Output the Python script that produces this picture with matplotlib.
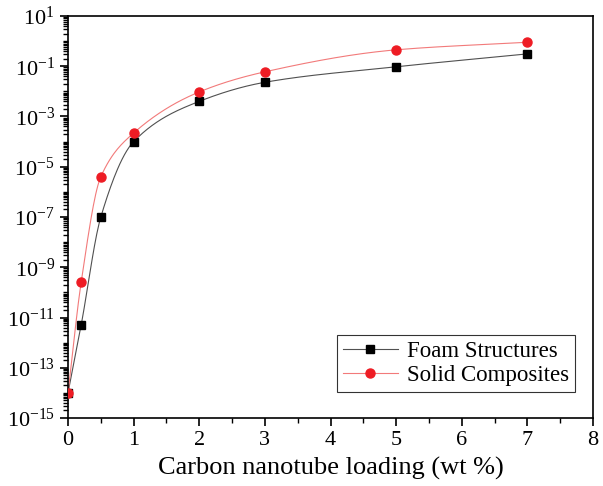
import numpy as np
import matplotlib
matplotlib.use('Agg')
import matplotlib.pyplot as plt
from matplotlib.ticker import LogLocator, FixedLocator, NullFormatter

# data
loading = [0, 0.2, 0.5, 1, 2, 3, 5, 7]
foam = [1.0e-14, 5.0e-12, 1.0e-7, 1.0e-4, 4.0e-3, 2.3e-2, 9.5e-2, 0.31]
solid = [1.0e-14, 2.5e-10, 4.0e-6, 2.2e-4, 9.5e-3, 6.0e-2, 0.45, 0.9]
ytick_exp = [1, -1, -3, -5, -7, -9, -11, -13, -15]


def smooth(x, y, n=400):
    # monotone cubic hermite through the points, in log10 space
    x = np.asarray(x, float)
    ly = np.log10(y)
    h = np.diff(x)
    d = np.diff(ly) / h
    m = np.zeros_like(ly)
    m[0], m[-1] = d[0], d[-1]
    for i in range(1, len(x) - 1):
        if d[i - 1] * d[i] > 0:
            w1 = 2 * h[i] + h[i - 1]
            w2 = h[i] + 2 * h[i - 1]
            m[i] = (w1 + w2) / (w1 / d[i - 1] + w2 / d[i])
    xs = np.linspace(x[0], x[-1], n)
    k = np.clip(np.searchsorted(x, xs) - 1, 0, len(x) - 2)
    t = (xs - x[k]) / h[k]
    h00 = 2 * t**3 - 3 * t**2 + 1
    h10 = t**3 - 2 * t**2 + t
    h01 = -2 * t**3 + 3 * t**2
    h11 = t**3 - t**2
    ys = h00 * ly[k] + h10 * h[k] * m[k] + h01 * ly[k + 1] + h11 * h[k] * m[k + 1]
    return xs, 10**ys


plt.rcParams['font.family'] = ['Liberation Serif', 'DejaVu Serif']
plt.rcParams['mathtext.fontset'] = 'custom'
plt.rcParams['mathtext.rm'] = 'Liberation Serif'

fig = plt.figure(figsize=(6.03, 4.86), dpi=100)
ax = fig.add_axes([0.1128, 0.1399, 0.8706, 0.8272])

xs, ys = smooth(loading, foam)
ax.plot(xs, ys, color='#505050', lw=0.8)
xs, ys = smooth(loading, solid)
ax.plot(xs, ys, color='#f27a7a', lw=0.8)

ax.plot(loading, foam, 's', color='black', ms=5.5, zorder=3)
ax.plot(loading, solid, 'o', color='#ee1c24', ms=6.5, zorder=3)

# legend proxies (line + marker)
h1, = ax.plot([], [], '-s', color='#505050', mfc='black', mec='black', ms=5.5, lw=0.8)
h2, = ax.plot([], [], '-o', color='#f27a7a', mfc='#ee1c24', mec='#ee1c24', ms=6.5, lw=0.8)
leg = ax.legend([h1, h2], ['Foam Structures', 'Solid Composites'],
                loc='lower right', bbox_to_anchor=(0.965, 0.065),
                fontsize=16.5, frameon=True, fancybox=False, edgecolor='black',
                handlelength=2.4, handletextpad=0.4, borderpad=0.25,
                labelspacing=0.15, borderaxespad=0)
leg.get_frame().set_linewidth(0.8)

ax.set_yscale('log')
ax.set_xlim(0, 8)
ax.set_ylim(1e-15, 1e1)
ax.xaxis.set_major_locator(FixedLocator(range(0, 9)))
ax.xaxis.set_minor_locator(FixedLocator(np.arange(0.5, 8, 1)))
ax.yaxis.set_major_locator(FixedLocator([10.0**e for e in ytick_exp]))
ax.set_yticklabels(['$\\mathregular{10^{%d}}$' % e for e in ytick_exp])
ax.yaxis.set_minor_locator(LogLocator(base=10, subs=np.arange(1, 10), numticks=100))
ax.yaxis.set_minor_formatter(NullFormatter())

ax.tick_params(which='both', direction='out', top=False, right=False, labelsize=16)
ax.tick_params(which='major', length=6, width=1.2)
ax.tick_params(which='minor', length=3.5, width=1.0)
for s in ax.spines.values():
    s.set_linewidth(1.2)

ax.set_xlabel('Carbon nanotube loading (wt %)', fontsize=19, labelpad=5)

fig.savefig('out.png', dpi=100)
